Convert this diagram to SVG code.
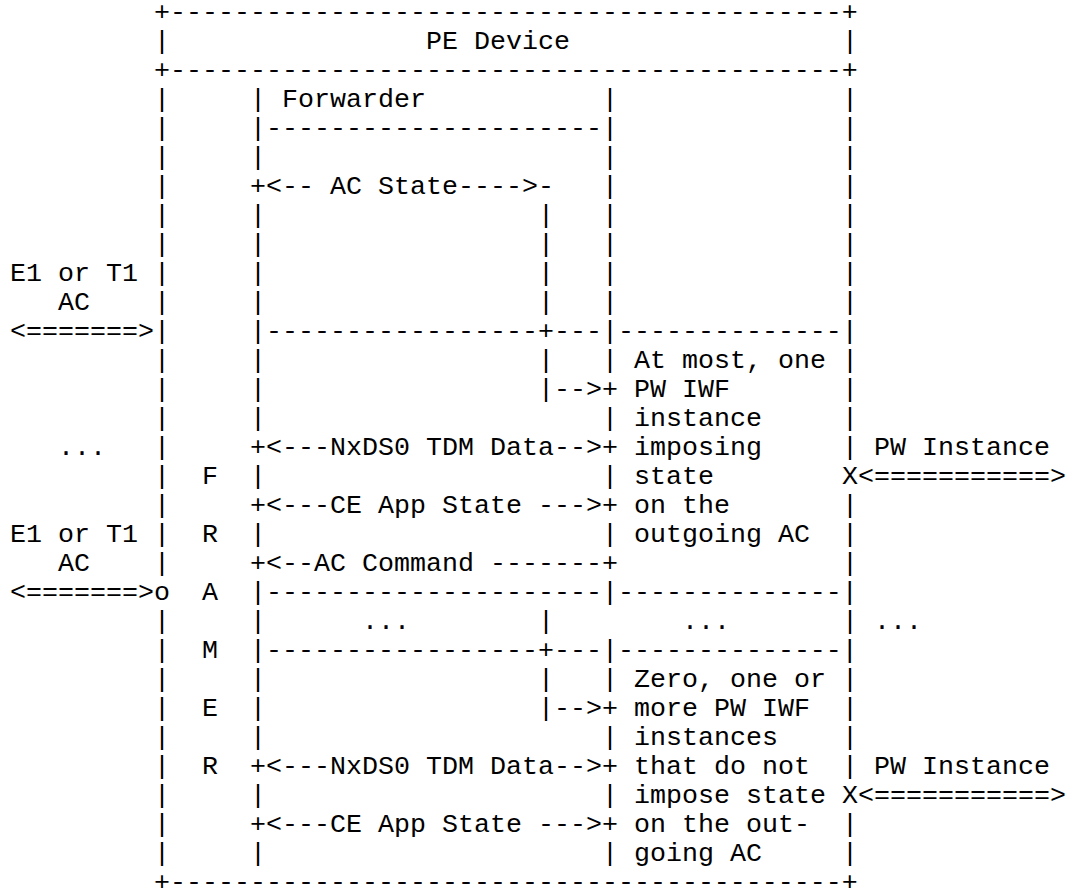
<svg xmlns="http://www.w3.org/2000/svg" width="1066" height="896" viewBox="0 0 1066 896" xml:space="preserve">
<style>
text { font-family: "Liberation Mono", "Courier New", monospace; font-size: 26.667px; fill: #000; white-space: pre; }
</style>
<rect x="0" y="0" width="1066" height="896" fill="#fff"/>
<g id="pe-device">
<text><tspan x="154" y="20">+------------------------------------------+</tspan><tspan x="154" y="78">+------------------------------------------+</tspan><tspan x="154" y="890">+------------------------------------------+</tspan></text>
<text x="426" y="49">PE Device</text>
<text><tspan x="154" y="49">|</tspan><tspan x="154" y="107">|</tspan><tspan x="154" y="136">|</tspan><tspan x="154" y="165">|</tspan><tspan x="154" y="194">|</tspan><tspan x="154" y="223">|</tspan><tspan x="154" y="252">|</tspan><tspan x="154" y="281">|</tspan><tspan x="154" y="310">|</tspan><tspan x="154" y="339">|</tspan><tspan x="154" y="368">|</tspan><tspan x="154" y="397">|</tspan><tspan x="154" y="426">|</tspan><tspan x="154" y="455">|</tspan><tspan x="154" y="484">|</tspan><tspan x="154" y="513">|</tspan><tspan x="154" y="542">|</tspan><tspan x="154" y="571">|</tspan><tspan x="154" y="629">|</tspan><tspan x="154" y="658">|</tspan><tspan x="154" y="687">|</tspan><tspan x="154" y="716">|</tspan><tspan x="154" y="745">|</tspan><tspan x="154" y="774">|</tspan><tspan x="154" y="803">|</tspan><tspan x="154" y="832">|</tspan><tspan x="154" y="861">|</tspan></text>
<text><tspan x="842" y="49">|</tspan><tspan x="842" y="107">|</tspan><tspan x="842" y="136">|</tspan><tspan x="842" y="165">|</tspan><tspan x="842" y="194">|</tspan><tspan x="842" y="223">|</tspan><tspan x="842" y="252">|</tspan><tspan x="842" y="281">|</tspan><tspan x="842" y="310">|</tspan><tspan x="842" y="368">|</tspan><tspan x="842" y="397">|</tspan><tspan x="842" y="426">|</tspan><tspan x="842" y="455">|</tspan><tspan x="842" y="513">|</tspan><tspan x="842" y="542">|</tspan><tspan x="842" y="571">|</tspan><tspan x="842" y="629">|</tspan><tspan x="842" y="687">|</tspan><tspan x="842" y="716">|</tspan><tspan x="842" y="745">|</tspan><tspan x="842" y="774">|</tspan><tspan x="842" y="832">|</tspan><tspan x="842" y="861">|</tspan></text>
</g>
<g id="forwarder">
<text x="282" y="107">Forwarder</text>
<text x="250" y="136">|---------------------|</text>
<text><tspan x="250" y="107">|</tspan><tspan x="250" y="165">|</tspan><tspan x="250" y="223">|</tspan><tspan x="250" y="252">|</tspan><tspan x="250" y="281">|</tspan><tspan x="250" y="310">|</tspan><tspan x="250" y="368">|</tspan><tspan x="250" y="397">|</tspan><tspan x="250" y="426">|</tspan><tspan x="250" y="484">|</tspan><tspan x="250" y="542">|</tspan><tspan x="250" y="629">|</tspan><tspan x="250" y="687">|</tspan><tspan x="250" y="716">|</tspan><tspan x="250" y="745">|</tspan><tspan x="250" y="803">|</tspan><tspan x="250" y="861">|</tspan></text>
<text><tspan x="602" y="107">|</tspan><tspan x="602" y="165">|</tspan><tspan x="602" y="194">|</tspan><tspan x="602" y="223">|</tspan><tspan x="602" y="252">|</tspan><tspan x="602" y="281">|</tspan><tspan x="602" y="310">|</tspan><tspan x="602" y="368">|</tspan><tspan x="602" y="426">|</tspan><tspan x="602" y="484">|</tspan><tspan x="602" y="542">|</tspan><tspan x="602" y="687">|</tspan><tspan x="602" y="745">|</tspan><tspan x="602" y="803">|</tspan><tspan x="602" y="861">|</tspan></text>
<text><tspan x="538" y="629">|</tspan><tspan x="538" y="687">|</tspan></text>
<text x="250" y="339">|-----------------+---|--------------|</text>
<text x="250" y="600">|---------------------|--------------|</text>
<text x="250" y="658">|-----------------+---|--------------|</text>
<text x="362" y="629">...</text>
<text x="682" y="629">...</text>
</g>
<g id="framer">
<text><tspan x="202" y="484">F</tspan><tspan x="202" y="542">R</tspan><tspan x="202" y="600">A</tspan><tspan x="202" y="658">M</tspan><tspan x="202" y="716">E</tspan><tspan x="202" y="774">R</tspan></text>
</g>
<g id="iwf-imposing">
<text><tspan x="634" y="368">At most, one</tspan><tspan x="634" y="397">PW IWF</tspan><tspan x="634" y="426">instance</tspan><tspan x="634" y="455">imposing</tspan><tspan x="634" y="484">state</tspan><tspan x="634" y="513">on the</tspan><tspan x="634" y="542">outgoing AC</tspan></text>
</g>
<g id="iwf-non-imposing">
<text><tspan x="634" y="687">Zero, one or</tspan><tspan x="634" y="716">more PW IWF</tspan><tspan x="634" y="745">instances</tspan><tspan x="634" y="774">that do not</tspan><tspan x="634" y="803">impose state</tspan><tspan x="634" y="832">on the out-</tspan><tspan x="634" y="861">going AC</tspan></text>
</g>
<g id="ac-side">
<text x="10" y="281">E1 or T1</text>
<text x="58" y="310">AC</text>
<text x="58" y="455">...</text>
<text x="10" y="542">E1 or T1</text>
<text x="58" y="571">AC</text>
</g>
<g id="pw-side">
<text x="874" y="455">PW Instance</text>
<text x="874" y="629">...</text>
<text x="874" y="774">PW Instance</text>
</g>
<g id="connectors">
<text x="10" y="339">&lt;=======&gt;</text>
<text x="10" y="600">&lt;=======&gt;o</text>
<text x="250" y="194">+&lt;-- AC State----&gt;-</text>
<text><tspan x="538" y="223">|</tspan><tspan x="538" y="252">|</tspan><tspan x="538" y="281">|</tspan><tspan x="538" y="310">|</tspan><tspan x="538" y="368">|</tspan></text>
<text x="538" y="397">|--&gt;+</text>
<text x="538" y="716">|--&gt;+</text>
<text x="250" y="455">+&lt;---NxDS0 TDM Data--&gt;+</text>
<text x="250" y="513">+&lt;---CE App State ---&gt;+</text>
<text x="250" y="571">+&lt;--AC Command -------+</text>
<text x="250" y="774">+&lt;---NxDS0 TDM Data--&gt;+</text>
<text x="250" y="832">+&lt;---CE App State ---&gt;+</text>
<text x="842" y="484">X&lt;===========&gt;</text>
<text x="842" y="803">X&lt;===========&gt;</text>
</g>
</svg>
